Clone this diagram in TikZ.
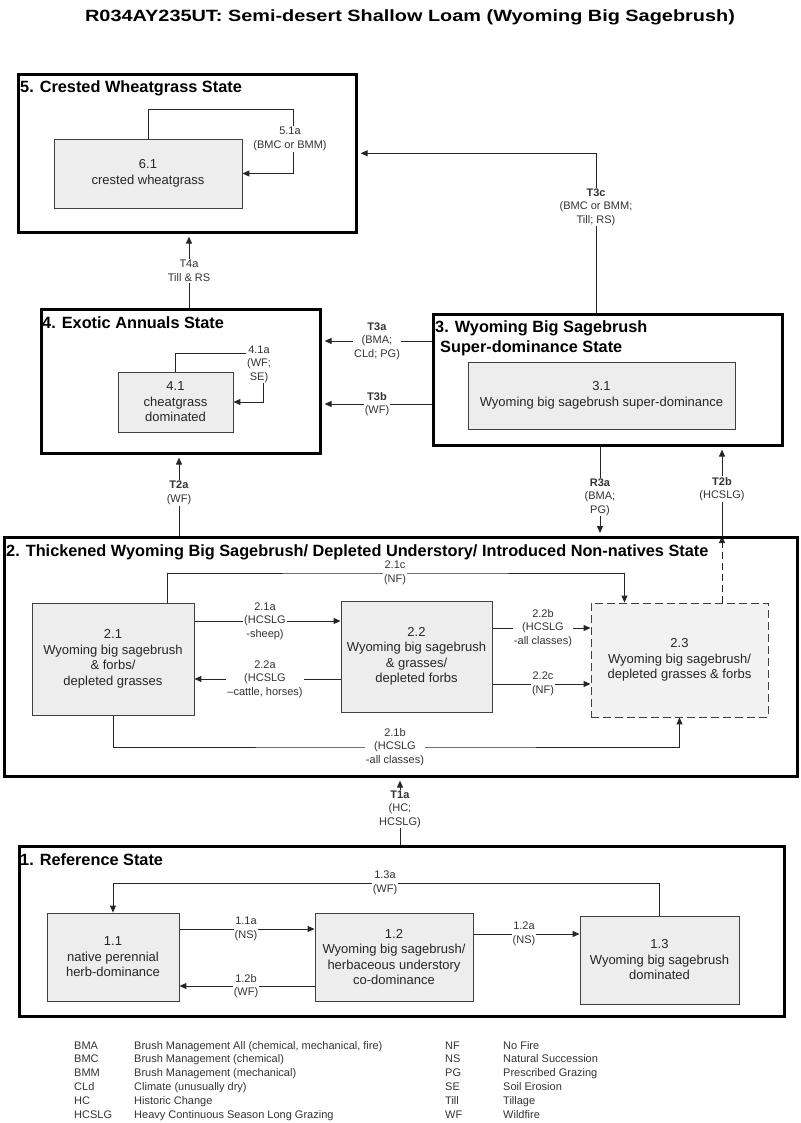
\documentclass[tikz,border=0pt]{standalone}
\usepackage{fontspec}
\setmainfont{Liberation Sans}
\newfontfamily\titlefont{Liberation Sans}[FakeStretch=1.22]
\usetikzlibrary{arrows.meta,backgrounds}

\begin{document}
\begin{tikzpicture}[
            x=1pt, y=-1pt,
            statebox/.style={rectangle, draw, line width=2.6pt, anchor=north west},
            statetitle/.style={anchor=base west, inner sep=0pt, font=\bfseries\fontsize{16.3}{20}\selectfont},
            phase/.style={rectangle, draw=black!75, fill=black!7, line width=0.9pt, align=center, text=black!85, font=\fontsize{13}{15.5}\selectfont},
            lbl/.style={fill=white, inner sep=1pt, align=center, text=black!80, font=\fontsize{11}{13.5}\selectfont},
            arrow/.style={-{Triangle[length=7pt,width=6pt]}, line width=1pt, draw=black!85},
            jump/.style={arrow, shorten >=3pt},
            legend/.style={anchor=base west, inner sep=0pt, text=black!80, font=\fontsize{11}{13.8}\selectfont}
            ]
            \useasboundingbox (0,0) rectangle (800,1123);

            % Title
            \node[font=\titlefont\bfseries\fontsize{16.3}{19}\selectfont] (title) at (410,17) {R034AY235UT: Semi-desert Shallow Loam (Wyoming Big Sagebrush)};

            % State boxes
            \node[statebox, minimum width=338pt, minimum height=158pt] (s5) at (17,73) {};
            \node[statebox, minimum width=279pt, minimum height=144pt] (s4) at (40,308) {};
            \node[statebox, minimum width=349pt, minimum height=131pt] (s3) at (432,313) {};
            \node[statebox, minimum width=793pt, minimum height=239pt] (s2) at (3,536) {};
            \node[statebox, minimum width=765pt, minimum height=170pt] (s1) at (18,845) {};

            % State titles
            \node[statetitle] (t5) at (20,93) {5. Crested Wheatgrass State};
            \node[statetitle] (t4) at (42,328) {4. Exotic Annuals State};
            \node[statetitle] (t3) at (435,332) {3. Wyoming Big Sagebrush};
            \node[statetitle] (t3b) at (440,352) {Super-dominance State};
            \node[statetitle] (t2) at (6,556) {2. Thickened Wyoming Big Sagebrush/ Depleted Understory/ Introduced Non-natives State};
            \node[statetitle] (t1) at (20,865) {1. Reference State};

            % Community phases
            \node[phase, minimum width=188pt, minimum height=69pt] (p61) at (148,173.5) {6.1\\crested wheatgrass};
            \node[phase, minimum width=115pt, minimum height=60pt] (p41) at (175.5,402) {4.1\\cheatgrass\\dominated};
            \node[phase, minimum width=267pt, minimum height=67pt] (p31) at (601.5,395.5) {3.1\\Wyoming big sagebrush super-dominance};
            \node[phase, minimum width=162pt, minimum height=112pt] (p21) at (113,659) {2.1\\Wyoming big sagebrush\\\& forbs/\\depleted grasses};
            \node[phase, minimum width=151pt, minimum height=111pt] (p22) at (416.5,656.5) {2.2\\Wyoming big sagebrush\\\& grasses/\\depleted forbs};
            \node[phase, minimum width=177pt, minimum height=114pt, fill=black!5, dash pattern=on 8pt off 4pt] (p23) at (679.5,660) {2.3\\Wyoming big sagebrush/\\depleted grasses \& forbs};
            \node[phase, minimum width=132pt, minimum height=88pt] (p11) at (113,957) {1.1\\native perennial\\herb-dominance};
            \node[phase, minimum width=158pt, minimum height=88pt] (p12) at (394,957) {1.2\\Wyoming big sagebrush/\\herbaceous understory\\co-dominance};
            \node[phase, minimum width=159pt, minimum height=88pt] (p13) at (659.5,960) {1.3\\Wyoming big sagebrush\\dominated};

            % Labels
            \node[lbl] (l51a) at (290,139) {5.1a\\(BMC or BMM)};
            \node[lbl] (lT3c) at (596,207) {\textbf{T3c}\\(BMC or BMM;\\Till; RS)};
            \node[lbl] (lT4a) at (189,271) {T4a\\Till \& RS};
            \node[lbl] (lT3a) at (377,341) {\textbf{T3a}\\(BMA;\\CLd; PG)};
            \node[lbl] (lT3b) at (377,404) {\textbf{T3b}\\(WF)};
            \node[lbl] (l41a) at (259,364) {4.1a\\(WF;\\SE)};
            \node[lbl] (lR3a) at (600,497) {\textbf{R3a}\\(BMA;\\PG)};
            \node[lbl] (lT2b) at (722,489) {\textbf{T2b}\\(HCSLG)};
            \node[lbl] (lT2a) at (179,493) {\textbf{T2a}\\(WF)};
            \node[lbl] (l21c) at (395,573) {2.1c\\(NF)};
            \node[lbl] (l21a) at (265,621) {2.1a\\(HCSLG\\-sheep)};
            \node[lbl] (l22a) at (265,679) {2.2a\\(HCSLG\\--cattle, horses)};
            \node[lbl] (l22b) at (543,628) {2.2b\\(HCSLG\\-all classes)};
            \node[lbl] (l22c) at (543,684) {2.2c\\(NF)};
            \node[lbl] (l21b) at (395,747) {2.1b\\(HCSLG\\-all classes)};
            \node[lbl] (lT1a) at (400,809) {\textbf{T1a}\\(HC;\\HCSLG)};
            \node[lbl] (l13a) at (385,883) {1.3a\\(WF)};
            \node[lbl] (l11a) at (246,929) {1.1a\\(NS)};
            \node[lbl] (l12b) at (246,986) {1.2b\\(WF)};
            \node[lbl] (l12a) at (524,934) {1.2a\\(NS)};

            % Loop corners
            \coordinate (k51) at (293,110);
            \coordinate (k41) at (263,353);

            % Arrows
            \begin{scope}[on background layer]
            \draw[arrow] (p61.north) |- (k51) |- (p61.east);
            \draw[arrow] (p41.north) |- (k41) |- (p41.east);
            \draw[jump] (lT3c |- s3.north) |- (s5.east);
            \draw[jump] (lT4a |- s4.north) -- (lT4a |- s5.south);
            \draw[jump] (s3.west |- lT3a) -- (s4.east |- lT3a);
            \draw[jump] (s3.west |- lT3b) -- (s4.east |- lT3b);
            \draw[jump] (lT2a |- s2.north) -- (lT2a |- s4.south);
            \draw[jump] (lR3a |- s3.south) -- (lR3a |- s2.north);
            \draw[arrow, dash pattern=on 7pt off 4pt] (lT2b |- p23.north) -- (lT2b |- s2.north);
            \draw[jump] (lT2b |- s2.north) -- (lT2b |- s3.south);
            \draw[jump] (lT1a |- s1.north) -- (lT1a |- s2.south);
            \draw[arrow] ([xshift=54pt]p21.north) |- (l21c.center) -| ([xshift=-55pt]p23.north);
            \draw[arrow] (p21.south) |- (l21b.center) -| (p23.south);
            \draw[arrow] (p21.east |- l21a) -- (p22.west |- l21a);
            \draw[arrow] (p22.west |- l22a) -- (p21.east |- l22a);
            \draw[arrow] (p22.east |- l22b) -- (p23.west |- l22b);
            \draw[arrow] (p22.east |- l22c) -- (p23.west |- l22c);
            \draw[arrow] (p13.north) |- (l13a.center) -| (p11.north);
            \draw[arrow] (p11.east |- l11a) -- (p12.west |- l11a);
            \draw[arrow] (p12.west |- l12b) -- (p11.east |- l12b);
            \draw[arrow] (p12.east |- l12a) -- (p13.west |- l12a);
            \end{scope}

            % Legend
            \node[legend] (leg1) at (74,1049) {\begin{tabular}[t]{@{}p{60pt}@{}l@{}}
              BMA & Brush Management All (chemical, mechanical, fire)\\
              BMC & Brush Management (chemical)\\
              BMM & Brush Management (mechanical)\\
              CLd & Climate (unusually dry)\\
              HC & Historic Change\\
              HCSLG & Heavy Continuous Season Long Grazing
            \end{tabular}};
            \node[legend] (leg2) at (445,1049) {\begin{tabular}[t]{@{}p{58pt}@{}l@{}}
              NF & No Fire\\
              NS & Natural Succession\\
              PG & Prescribed Grazing\\
              SE & Soil Erosion\\
              Till & Tillage\\
              WF & Wildfire
            \end{tabular}};
        \end{tikzpicture}
\end{document}
